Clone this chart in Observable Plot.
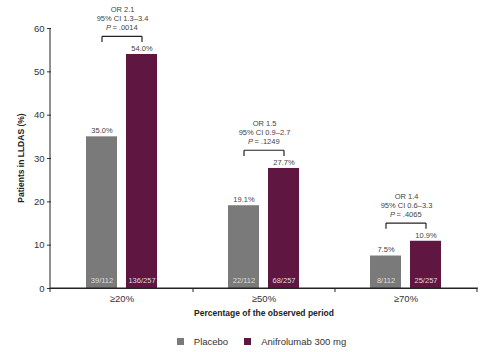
<!DOCTYPE html>
<html>
<head>
<meta charset="utf-8">
<script src="https://cdn.jsdelivr.net/npm/d3@7"></script>
<script src="https://cdn.jsdelivr.net/npm/@observablehq/plot@0.6"></script>
<style>
  body { margin: 0; background: #fff; font-family: "Liberation Sans", Arial, sans-serif; }
  #chart { width: 495px; }
  .legend { display: flex; justify-content: center; font-size: 9.5px; color: #333; margin-top: 14px; padding-left: 44px; }
  .legend span.item { display: inline-flex; align-items: center; margin-right: 16px; }
  .legend span.sw { width: 7px; height: 7px; display: inline-block; margin-right: 10px; }
</style>
</head>
<body>
<div id="chart"></div>
<script>
const categories = ["≥20%", "≥50%", "≥70%"];
const groups = ["Placebo", "Anifrolumab 300 mg"];
const placeboValues = [35.0, 19.1, 7.5];
const anifValues = [54.0, 27.7, 10.9];
const placeboCounts = ["39/112", "22/112", "8/112"];
const anifCounts = ["136/257", "68/257", "25/257"];
const orLabels = ["OR 2.1", "OR 1.5", "OR 1.4"];
const ciLabels = ["95% CI 1.3–3.4", "95% CI 0.9–2.7", "95% CI 0.6–3.3"];
const pLabels = [".0014", ".1249", ".4065"];
const colors = ["#7a7a7a", "#5f1640"];
const yTicks = [0, 10, 20, 30, 40, 50, 60];

const bars = [];
categories.forEach((c, i) => {
  bars.push({cat: c, group: groups[0], value: placeboValues[i], count: placeboCounts[i]});
  bars.push({cat: c, group: groups[1], value: anifValues[i], count: anifCounts[i]});
});
const notes = categories.map((c, i) => ({
  cat: c,
  top: Math.max(placeboValues[i], anifValues[i]) + 4.2,
  or: orLabels[i], ci: ciLabels[i], p: pLabels[i]
}));
const legs = [];
notes.forEach(n => groups.forEach(g => legs.push({cat: n.cat, group: g, top: n.top})));

const font = "Liberation Sans, Arial, sans-serif";
const plot = Plot.plot({
  width: 495,
  height: 322,
  marginLeft: 50,
  marginRight: 17,
  marginTop: 28,
  marginBottom: 34,
  style: {fontFamily: font, background: "#fff", color: "#333", overflow: "visible"},
  fx: {domain: categories, padding: 0, label: null, axis: null},
  x: {domain: groups, paddingInner: 0.222, paddingOuter: 0.87, axis: null},
  y: {domain: [0, 60], ticks: yTicks, label: null},
  color: {domain: groups, range: colors},
  marks: [
    Plot.barY(bars, {fx: "cat", x: "group", y: "value", fill: "group"}),
    Plot.text(bars, {fx: "cat", x: "group", y: "value", text: d => d.value.toFixed(1) + "%", dy: -6, fontSize: 7.5, fill: "#444"}),
    Plot.text(bars, {fx: "cat", x: "group", y: 0, text: "count", dy: -8, fontSize: 7.5, fill: "#ddd"}),
    Plot.link(notes, {fx: "cat", x1: () => groups[0], x2: () => groups[1], y1: "top", y2: "top", stroke: "#222", strokeWidth: 1.2}),
    Plot.link(legs, {fx: "cat", x1: "group", x2: "group", y1: "top", y2: d => d.top - 1.3, stroke: "#222", strokeWidth: 1.2}),
    Plot.text(notes, {fx: "cat", x: () => groups[0], y: "top", text: d => "= " + d.p, dx: 23, dy: -8.5, fontSize: 7.5, fill: "#444"}),
    Plot.text(notes, {fx: "cat", x: () => groups[0], y: "top", text: () => "P", dx: 6.5, dy: -8.5, fontSize: 7.5, fontStyle: "italic", fill: "#444"}),
    Plot.text(notes, {fx: "cat", x: () => groups[0], y: "top", text: "ci", dx: 20.5, dy: -17.5, fontSize: 7.5, fill: "#444"}),
    Plot.text(notes, {fx: "cat", x: () => groups[0], y: "top", text: "or", dx: 20.5, dy: -26.5, fontSize: 7.5, fill: "#444"}),
    Plot.axisY({ticks: yTicks, tickSize: 4, fontSize: 9.5, tickPadding: 3, label: null}),
    Plot.ruleY([0], {stroke: "#222"})
  ]
});

document.getElementById("chart").appendChild(plot);

// axis decorations from library scales
const svg = d3.select(plot);
const fx = plot.scale("fx");
const ys = plot.scale("y");
const bw = (fx.range[1] - fx.range[0]) / categories.length;
const y0 = ys.apply(0);
const yTop = ys.apply(60);
svg.append("line").attr("x1", fx.range[0]).attr("x2", fx.range[0]).attr("y1", yTop).attr("y2", y0 + 4).attr("stroke", "#222");
svg.append("line").attr("x1", fx.range[0]).attr("x2", fx.range[1]).attr("y1", y0).attr("y2", y0).attr("stroke", "#222");
categories.forEach((c, i) => {
  const left = fx.apply(c);
  const band = fx.bandwidth ?? bw;
  const xr = left + band;
  svg.append("line").attr("x1", xr).attr("x2", xr).attr("y1", y0).attr("y2", y0 + 4).attr("stroke", "#222");
  svg.append("text").attr("x", left + band / 2).attr("y", y0 + 14).attr("text-anchor", "middle")
    .attr("font-size", 9.5).attr("fill", "#333").text(c);
});
svg.append("text").attr("x", 264).attr("y", 316).attr("text-anchor", "middle").attr("font-size", 8.5)
  .attr("font-weight", "bold").attr("fill", "#222").text("Percentage of the observed period");
svg.append("text").attr("transform", "translate(24,158) rotate(-90)").attr("text-anchor", "middle").attr("font-size", 8.5)
  .attr("font-weight", "bold").attr("fill", "#222").text("Patients in LLDAS (%)");

// legend
const leg = document.createElement("div");
leg.className = "legend";
groups.forEach((g, i) => {
  const it = document.createElement("span"); it.className = "item";
  const sw = document.createElement("span"); sw.className = "sw"; sw.style.background = colors[i];
  it.appendChild(sw); it.appendChild(document.createTextNode(g));
  leg.appendChild(it);
});
document.getElementById("chart").appendChild(leg);
</script>
</body>
</html>
